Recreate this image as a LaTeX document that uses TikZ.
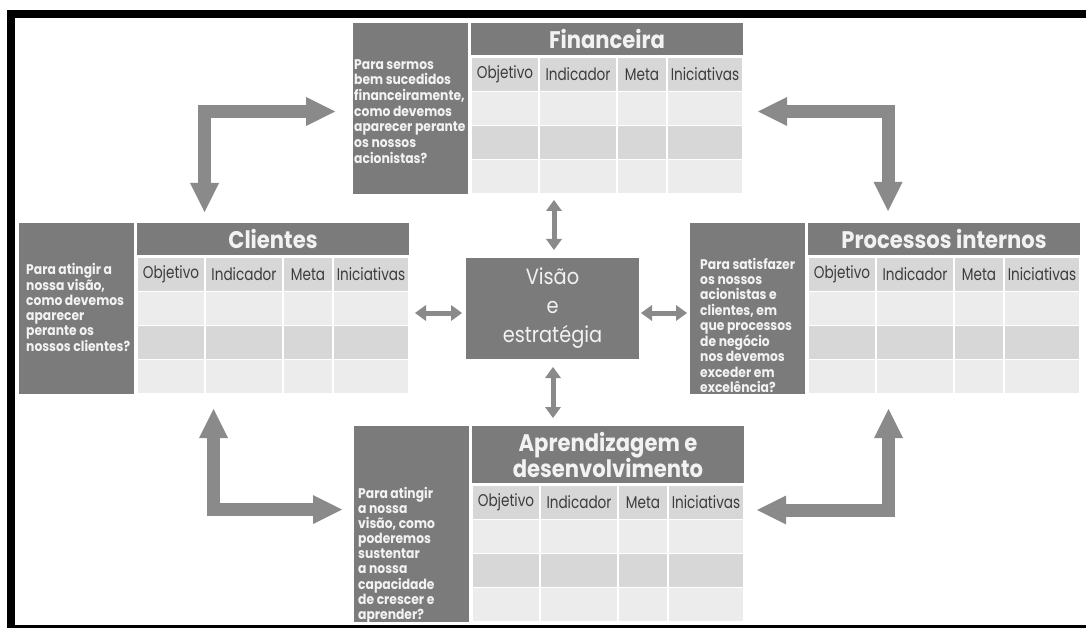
\documentclass[tikz,border=0pt]{standalone}
\usepackage{fontspec}
\setmainfont[FakeStretch=0.88]{Poppins}
\newfontfamily\labelfont[FakeStretch=0.8]{Poppins}
\usetikzlibrary{arrows.meta}

\definecolor{boxgray}{HTML}{7B7B7B}
\definecolor{arrowgray}{HTML}{8A8A8A}
\definecolor{rowdark}{HTML}{D7D7D7}
\definecolor{rowlight}{HTML}{ECECEC}
\definecolor{labelgray}{HTML}{3C3C3C}
\definecolor{softwhite}{HTML}{F2F2F2}

\tikzset{
  darkbox/.style={rectangle, fill=boxgray, draw=none, inner sep=0pt, outer sep=0pt},
  cell/.style={rectangle, draw=none, inner sep=0pt, outer sep=0pt},
  collabel/.style={font=\labelfont\fontsize{17}{20}\selectfont, text=labelgray},
  question/.style={font=\bfseries\fontsize{14}{15.2}\selectfont, text=softwhite,
    align=left, anchor=north west, inner sep=0pt},
  paneltitle/.style={font=\bfseries\fontsize{24}{28}\selectfont, text=softwhite, align=center},
  bigarrow/.style={draw=arrowgray, line width=13pt,
    {Triangle[width=29pt,length=29pt,line width=0pt]}-{Triangle[width=29pt,length=29pt,line width=0pt]}},
  smallarrow/.style={draw=arrowgray, line width=5pt,
    {Triangle[width=16pt,length=11pt,line width=0pt]}-{Triangle[width=16pt,length=11pt,line width=0pt]}},
}

% One perspective panel: question box, title bar and a 4x4 table.
% #1 name, #2 left x of question box, #3 top y, #4 title bar height, #5 title
\newcommand\bscpanel[5]{%
  \pgfmathsetmacro\bsctx{#2+118}%
  \pgfmathsetmacro\bscty{#3+#4+3}%
  \pgfmathsetmacro\bscqh{#4+139}%
  \node[darkbox, minimum width=115pt, minimum height=\bscqh pt, anchor=north west]
    (#1-q) at (#2,#3) {};
  \node[darkbox, paneltitle, minimum width=272pt, minimum height=#4 pt, anchor=north west]
    (#1-t) at (\bsctx,#3) {#5};
  \foreach \a/\b/\lab [count=\c] in {0/68/Objetivo,68/146/Indicador,146/196/Meta,196/272/Iniciativas}{
    \foreach \r/\col in {0/rowdark,1/rowlight,2/rowdark,3/rowlight}{
      \pgfmathsetmacro\cx{\bsctx+(\a+\b)/2}
      \pgfmathsetmacro\cy{\bscty+34*\r+16.5}
      \pgfmathsetmacro\cw{\b-\a-2}
      \node[cell, fill=\col, minimum width=\cw pt, minimum height=33pt]
        (#1-c\c-\r) at (\cx,\cy) {};
    }
    \node[collabel] (#1-l\c) at (#1-c\c-0) {\lab};
  }
}

\begin{document}
\begin{tikzpicture}[x=1pt,y=-1pt]
  \useasboundingbox (0,0) rectangle (1086,628);
  \fill[white] (0,0) rectangle (1086,628);
  % frame
  \fill[black] (7,10) rectangle (1086,628);
  \fill[white] (15,18) rectangle (1086,625);

  % the four perspectives
  \bscpanel{fin}{353}{23}{32}{Financeira}
  \bscpanel{cli}{19}{223}{32}{Clientes}
  \bscpanel{proc}{690}{223}{32}{Processos internos}
  \bscpanel{apr}{354}{426}{57}{Aprendizagem e\\[-2pt]desenvolvimento}

  \node[question, font=\bfseries\fontsize{14}{15.7}\selectfont] (fin-text) at (354,59) {Para sermos\\bem sucedidos\\financeiramente,\\como devemos\\aparecer perante\\os nossos\\acionistas?};
  \node[question, font=\bfseries\fontsize{14}{14.9}\selectfont] (cli-text) at (26,263) {Para atingir a\\nossa visão,\\como devemos\\aparecer\\perante os\\nossos clientes?};
  \node[question] (proc-text) at (700,258) {Para satisfazer\\os nossos\\acionistas e\\clientes, em\\que processos\\de negócio\\nos devemos\\exceder em\\excelência?};
  \node[question, font=\bfseries\fontsize{14}{15.1}\selectfont] (apr-text) at (358,487) {Para atingir\\a nossa\\visão, como\\poderemos\\sustentar\\a nossa\\capacidade\\de crescer e\\aprender?};

  % centre
  \node[darkbox, minimum width=173pt, minimum height=101pt, text=softwhite,
    font=\fontsize{22}{29}\selectfont, align=center]
    (vis) at (552.5,308.5) {Visão\\e\\estratégia};

  % links between the centre and the panels
  \draw[smallarrow, shorten <=8pt, shorten >=7pt]
    ([xshift=1.5pt]vis.north) -- ([xshift=1.5pt]vis.north |- fin-c1-3.south);
  \draw[smallarrow, shorten <=8pt, shorten >=8pt]
    ([xshift=0.5pt]vis.south) -- ([xshift=0.5pt]vis.south |- apr-q.north);
  \draw[smallarrow, shorten <=4pt, shorten >=7pt]
    ([yshift=-4.5pt]vis.west) -- ([yshift=-4.5pt]vis.west -| cli-c4-0.east);
  \draw[smallarrow, shorten <=2pt, shorten >=3pt]
    ([yshift=-4.5pt]vis.east) -- ([yshift=-4.5pt]vis.east -| proc-q.west);

  % links between neighbouring panels
  \coordinate (tl-a) at (204.5,212);
  \coordinate (tl-b) at (335,111.5);
  \coordinate (tr-a) at (758,111.5);
  \coordinate (tr-b) at (888,211);
  \coordinate (bl-a) at (213.5,409);
  \coordinate (bl-b) at (342,509.5);
  \coordinate (br-a) at (888.5,409);
  \coordinate (br-b) at (757,510);
  \draw[bigarrow] (tl-a) |- (tl-b);
  \draw[bigarrow] (tr-a) -| (tr-b);
  \draw[bigarrow] (bl-a) |- (bl-b);
  \draw[bigarrow] (br-a) |- (br-b);
\end{tikzpicture}
\end{document}
